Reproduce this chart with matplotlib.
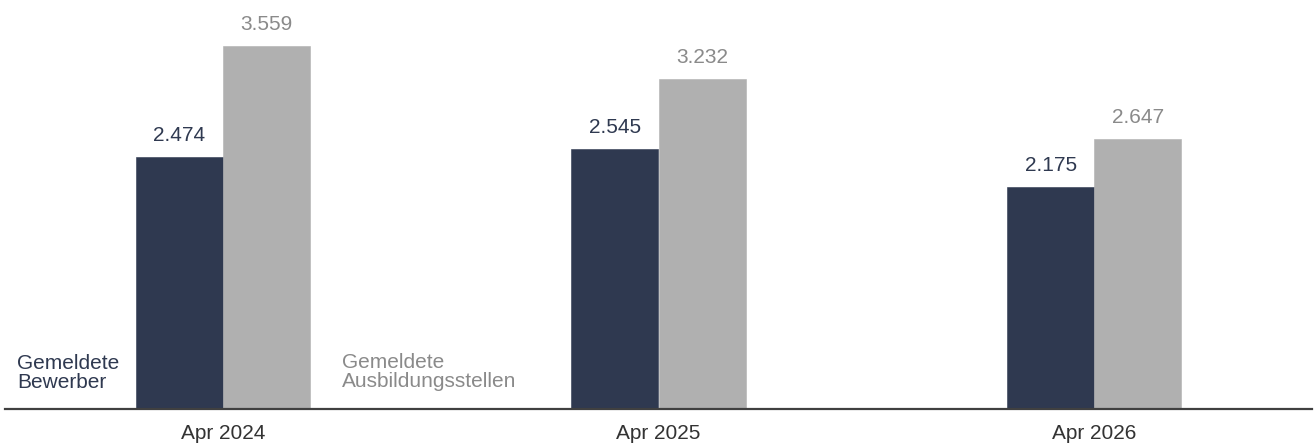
import matplotlib
matplotlib.use("Agg")
import matplotlib.pyplot as plt
import numpy as np

plt.rcParams["font.family"] = ["Liberation Sans", "DejaVu Sans"]

# ── Data ────────────────────────────────────────────────────────────────────
months = ["Apr 2024", "Apr 2025", "Apr 2026"]
bewerber = [2474, 2545, 2175]
stellen = [3559, 3232, 2647]
bewerber_label = "Gemeldete\nBewerber"
stellen_label = "Gemeldete\nAusbildungsstellen"

NAVY = "#2f3950"
GREY = "#b0b0b0"
GREY_TXT = "#8a8a8a"
BASE = "#404040"

W, H, DPI = 1316, 445, 100
PX_PER_UNIT = 0.10205  # bar height in pixels per unit

fig = plt.figure(figsize=(W / DPI, H / DPI), dpi=DPI)
ax = fig.add_axes([5 / W, 36 / H, 1307 / W, 409 / H])

x = np.arange(len(months))
bw = 0.2
ax.bar(x - bw / 2, bewerber, width=bw, color=NAVY, edgecolor=NAVY, linewidth=0.4)
ax.bar(x + bw / 2, stellen, width=bw, color=GREY, edgecolor=GREY, linewidth=0.4)

for xi, v in zip(x, bewerber):
    ax.annotate(f"{v:,}".replace(",", "."), (xi - bw / 2, v), xytext=(0, 11.5),
                textcoords="offset points", ha="center", va="baseline",
                fontsize=15, color=NAVY)
for xi, v in zip(x, stellen):
    ax.annotate(f"{v:,}".replace(",", "."), (xi + bw / 2, v), xytext=(0, 11.5),
                textcoords="offset points", ha="center", va="baseline",
                fontsize=15, color=GREY_TXT)

# in-chart series labels
ax.text(-0.4725, 21 / PX_PER_UNIT, bewerber_label, ha="left", va="baseline",
        fontsize=15, color=NAVY, linespacing=1.02)
ax.text(0.2734, 22 / PX_PER_UNIT, stellen_label, ha="left", va="baseline",
        fontsize=15, color=GREY_TXT, linespacing=1.02)

ax.set_xlim(-0.5, 2.5)
ax.set_ylim(0, 409 / PX_PER_UNIT)
ax.set_xticks(x)
ax.set_xticklabels(months, fontsize=15, color="#333333")
ax.tick_params(axis="x", length=0, pad=11)
ax.set_yticks([])
for s in ["top", "left", "right"]:
    ax.spines[s].set_visible(False)
ax.spines["bottom"].set_color(BASE)
ax.spines["bottom"].set_linewidth(1.6)

fig.savefig("out.png", dpi=DPI)
